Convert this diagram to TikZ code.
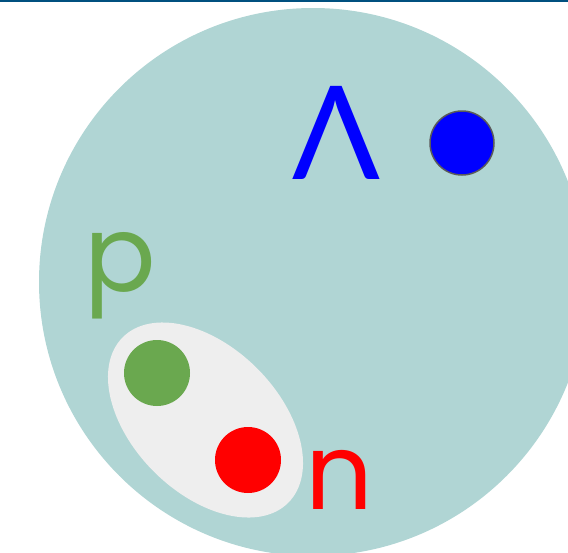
\documentclass[tikz,border=0pt]{standalone}
\usepackage{fontspec}
\setmainfont{Poppins}
\newfontfamily\lamfont{Lato}
\definecolor{teal1}{RGB}{176,213,212}
\definecolor{topline}{RGB}{0,80,127}
\definecolor{pgreen}{RGB}{106,168,79}
\definecolor{ngrey}{RGB}{238,238,238}
\definecolor{ringgrey}{RGB}{90,90,90}
\begin{document}
\begin{tikzpicture}[x=1pt,y=-1pt,
  ball/.style={circle,minimum size=66pt,inner sep=0pt},
  lab/.style={inner sep=0pt,anchor=base,font=\fontsize{106}{106}\selectfont}]
\useasboundingbox (0,0) rectangle (568,552);
\begin{scope}
\clip (0,0) rectangle (568,552);
\fill[teal1] (313,282) circle[radius=274];
\end{scope}
\draw[topline,line width=2pt] (0,1) -- (568,1);
\fill[ngrey] (205.5,420) ellipse[x radius=117,y radius=73,rotate=-45];
\node[ball,fill=pgreen] (pball) at (157,373) {};
\node[ball,fill=red] (nball) at (248,460) {};
\node[ball,minimum size=64pt,fill=blue,draw=ringgrey,line width=1.5pt] (lball) at (462,143) {};
\node[lab,text=blue,font=\lamfont\fontsize{130}{130}\selectfont] (lam) at (336.5,179) {Λ};
\node[lab,text=pgreen] (p) at (120.5,291) {p};
\node[lab,text=red] (n) at (339.5,509) {n};
\end{tikzpicture}
\end{document}
